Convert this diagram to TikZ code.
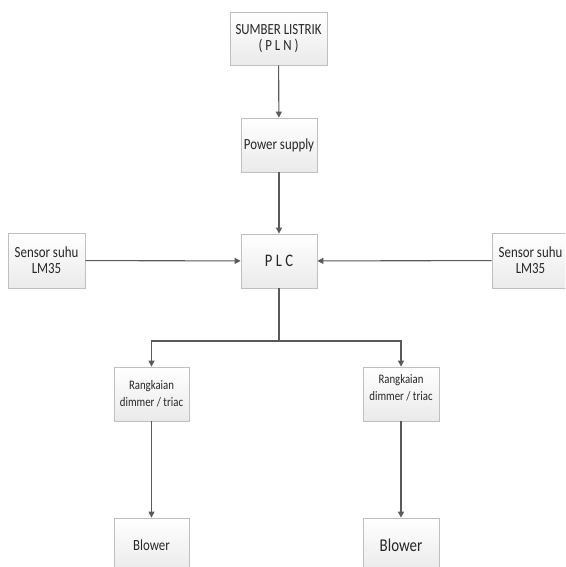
\documentclass[tikz,border=0pt]{standalone}
\usepackage{fontspec}
\setmainfont{Carlito}[FakeStretch=0.83]
\usetikzlibrary{arrows.meta,shadows}
\definecolor{boxline}{HTML}{BFBFBF}
\definecolor{boxbot}{HTML}{EAEAEA}
\definecolor{wire}{HTML}{5A5A5A}
\definecolor{ink}{HTML}{262626}
\tikzset{
  blk/.style={draw=boxline, line width=0.8pt, top color=white, bottom color=boxbot,
    minimum width=#1, minimum height=54pt, inner sep=1pt, align=center,
    text=ink, font=\fontsize{15.5}{16}\selectfont,
    drop shadow={opacity=0.12, shadow xshift=1.2pt, shadow yshift=-1.2pt}},
  blk/.default=76pt,
  arr/.style={draw=wire, line width=1.1pt, -{Triangle[width=6pt,length=6pt]}},
  wireline/.style={draw=wire, line width=1.1pt},
  smalltxt/.style={font=\fontsize{13}{17}\selectfont},
}
\begin{document}
\begin{tikzpicture}[x=1pt,y=-1pt]
\clip (0,0) rectangle (565,567);
\fill[white] (0,0) rectangle (565,567);
\node[blk=97pt, minimum height=53pt] (pln) at (278.5,38.5) {SUMBER LISTRIK\\( P L N )};
\node[blk] (ps) at (279,145) {Power supply};
\node[blk, font=\fontsize{17.6}{18}\selectfont] (plc) at (279,261) {P L C};
\node[blk=77pt, minimum height=55pt] (sl) at (46.5,260.5) {Sensor suhu\\LM35};
\node[blk=77pt, minimum height=55pt] (sr) at (530.5,260.5) {Sensor suhu\\LM35};
\node[blk=75pt, smalltxt] (dl) at (151.5,394) {Rangkaian\\dimmer / triac};
\node[blk] (dr) at (401,394) {};
\node[smalltxt, text=ink, align=center, inner sep=0pt] (drt) at (401,388) {Rangkaian\\dimmer / triac};
\node[blk=75pt] (bl) at (151.5,545) {Blower};
\node[blk, font=\fontsize{18}{20}\selectfont] (br) at (401,545) {Blower};
\coordinate (split) at (279,341);
\draw[arr] (pln) -- (ps);
\draw[arr] (ps) -- (plc);
\draw[arr] (sl) -- (plc);
\draw[arr] (sr) -- (plc);
\draw[wireline] (plc.south) -- (split);
\draw[arr] (split) -| (dl.north);
\draw[arr] (split) -| (dr.north);
\draw[arr] (dl) -- (bl);
\draw[arr] (dr) -- (br);
\end{tikzpicture}
\end{document}
